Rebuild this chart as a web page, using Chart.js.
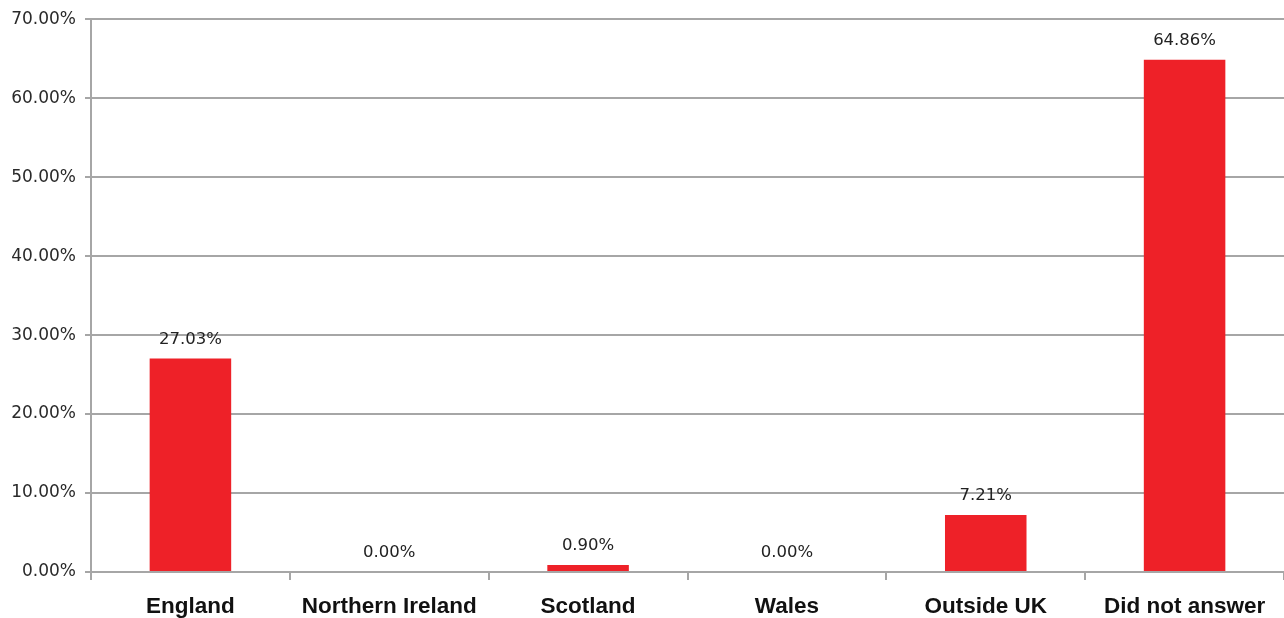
<!DOCTYPE html>
<html>
<head>
<meta charset="utf-8">
<script src="https://cdn.jsdelivr.net/npm/chart.js@4/dist/chart.umd.min.js"></script>
<style>
  html, body { margin: 0; padding: 0; background: #fff; }
</style>
</head>
<body>
<canvas id="myChart" width="1284" height="618"></canvas>
<script>
const categories = ['England', 'Northern Ireland', 'Scotland', 'Wales', 'Outside UK', 'Did not answer'];
const values = [27.03, 0.00, 0.90, 0.00, 7.21, 64.86];
const yTicks = [0, 10, 20, 30, 40, 50, 60, 70];

const gridColor = '#a6a6a6';

// labels above each bar
const valueLabels = {
  id: 'valueLabels',
  afterDatasetsDraw(chart) {
    const ctx = chart.ctx;
    const meta = chart.getDatasetMeta(0);
    ctx.save();
    ctx.font = '16.5px "DejaVu Sans", sans-serif';
    ctx.fillStyle = '#222';
    ctx.textAlign = 'center';
    ctx.textBaseline = 'middle';
    meta.data.forEach((bar, i) => {
      ctx.fillText(values[i].toFixed(2) + '%', bar.x, bar.y - 19);
    });
    ctx.restore();
  }
};

const config = {
  type: 'bar',
  data: {
    labels: categories,
    datasets: [{
      data: values,
      backgroundColor: '#ee2128',
      barPercentage: 0.41,
      categoryPercentage: 1.0
    }]
  },
  options: {
    responsive: false,
    animation: false,
    layout: { padding: { top: 18, right: 0, left: 0, bottom: 0 } },
    plugins: { legend: { display: false }, tooltip: { enabled: false } },
    scales: {
      x: {
        offset: true,
        grid: {
          offset: true,
          drawOnChartArea: false,
          drawTicks: true,
          tickLength: 8,
          color: gridColor,
          lineWidth: 2
        },
        border: { display: false },
        ticks: {
          color: '#111',
          font: { family: '"Liberation Sans", Arial, sans-serif', size: 22.5, weight: 'bold' },
          padding: 13,
          maxRotation: 0,
          autoSkip: false
        },
        afterFit(scale) { scale.height = 46; }
      },
      y: {
        min: 0,
        max: 70,
        afterBuildTicks(scale) { scale.ticks = yTicks.map(v => ({ value: v })); },
        grid: {
          color: gridColor,
          lineWidth: 2,
          tickLength: 6
        },
        border: { color: gridColor, width: 2 },
        ticks: {
          color: '#2a2a2a',
          font: { family: '"DejaVu Sans", sans-serif', size: 17 },
          padding: 9,
          callback: v => v.toFixed(2) + '%'
        },
        afterFit(scale) { scale.width = 91; }
      }
    }
  },
  plugins: [valueLabels]
};

new Chart(document.getElementById('myChart'), config);
</script>
</body>
</html>
